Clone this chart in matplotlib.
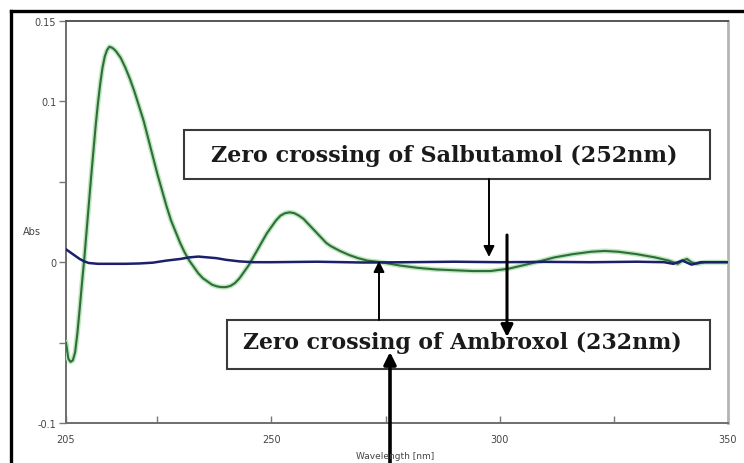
import matplotlib
matplotlib.use("Agg")
import matplotlib.pyplot as plt
import matplotlib.patheffects as pe
from matplotlib.patches import Rectangle
from matplotlib.lines import Line2D

# ---------------- data ----------------
green_wl = [205, 205.5, 206, 206.5, 207, 207.5, 208, 208.5, 209, 209.5, 210, 210.5, 211, 211.5,
            212, 212.5, 213, 213.5, 214, 214.5, 215, 215.5, 216, 217, 218, 219, 220, 221, 222,
            223, 224, 225, 226, 227, 228, 229, 230, 231, 232, 233, 234, 235, 236, 237, 238, 239,
            240, 241, 242, 243, 244, 245, 246, 247, 248, 249, 250, 251, 252, 253, 254, 255, 256,
            257, 258, 259, 260, 261, 262, 263, 265, 267, 269, 271, 274, 278, 282, 286, 290,
            294, 298, 302, 305, 308, 312, 316, 320, 323, 326, 330, 334, 337, 339, 340, 341,
            342, 343, 345, 350]
green_abs = [-0.050, -0.060, -0.062, -0.061, -0.056, -0.044, -0.029, -0.013, 0.002, 0.019,
             0.036, 0.053, 0.069, 0.085, 0.099, 0.111, 0.121, 0.128, 0.132, 0.134, 0.1335,
             0.1325, 0.131, 0.127, 0.121, 0.114, 0.106, 0.097, 0.088, 0.077, 0.066, 0.055,
             0.045, 0.035, 0.026, 0.019, 0.012, 0.006, 0.001, -0.003, -0.007, -0.010, -0.012,
             -0.014, -0.015, -0.0155, -0.0155, -0.0148, -0.013, -0.010, -0.006, -0.002, 0.003,
             0.008, 0.013, 0.018, 0.022, 0.026, 0.029, 0.0305, 0.031, 0.0305, 0.029, 0.027,
             0.024, 0.021, 0.018, 0.015, 0.012, 0.010, 0.007, 0.0045, 0.0025, 0.001, 0.0,
             -0.002, -0.0035, -0.0045, -0.005,
             -0.0055, -0.0055, -0.004, -0.002, 0.0, 0.003, 0.005, 0.0065, 0.007, 0.0065, 0.005,
             0.003, 0.001, -0.001, 0.001, 0.002,
             0.0, -0.001, 0.0, 0.0]

blue_wl = [205, 206, 207, 208, 209, 210, 212, 215, 218, 221, 224, 227, 230, 232, 234, 236, 238,
           240, 243, 246, 250, 260, 270, 280, 290, 300, 310, 320, 330, 336, 338, 340, 342, 344,
           347, 350]
blue_abs = [0.008, 0.006, 0.004, 0.002, 0.0005, -0.0005, -0.001, -0.001, -0.001, -0.0008,
            -0.0003, 0.001, 0.002, 0.003, 0.0035, 0.003, 0.0025,
            0.0015, 0.0005, 0.0, 0.0, 0.0003, -0.0002, 0.0, 0.0003, 0.0, 0.0002, 0.0, 0.0003,
            0.0, -0.001, 0.001, -0.0015, 0.0,
            0.0, 0.0]

x_ticks = [205, 225, 250, 275, 300, 325, 350]
x_tick_labels = ["205", "", "250", "", "300", "", "350"]
y_ticks = [-0.1, -0.05, 0, 0.05, 0.1, 0.15]
y_tick_labels = ["-0.1", "", "0", "", "0.1", "0.15"]

label_salbutamol = "Zero crossing of Salbutamol (252nm)"
label_ambroxol = "Zero crossing of Ambroxol (232nm)"

# ---------------- figure ----------------
W, H = 744, 464
fig = plt.figure(figsize=(W / 100, H / 100), dpi=100)
ax = fig.add_axes([66 / W, 1 - 424 / H, (728 - 66) / W, (424 - 22) / H])

ax.plot(green_wl, green_abs, color="#2f6e3b", lw=1.5, zorder=3,
        path_effects=[pe.Stroke(linewidth=3.6, foreground="#bfe8bf"), pe.Normal()])
ax.plot(blue_wl, blue_abs, color="#1c1f6b", lw=1.8, zorder=4)

ax.set_xlim(205, 350)
ax.set_ylim(-0.1, 0.15)
ax.set_xticks(x_ticks)
ax.set_xticklabels(x_tick_labels)
ax.set_yticks(y_ticks)
ax.set_yticklabels(y_tick_labels)

ax.tick_params(axis="x", direction="in", length=5, width=1, colors="#777777",
               labelcolor="#444444", labelsize=7, pad=8)
ax.tick_params(axis="y", direction="out", length=5, width=1, colors="#777777",
               labelcolor="#444444", labelsize=7, pad=2)
for lab in ax.get_xticklabels() + ax.get_yticklabels():
    lab.set_fontfamily("Liberation Sans Narrow")

for side in ["left", "bottom"]:
    ax.spines[side].set_color("#6e6e6e")
    ax.spines[side].set_linewidth(1.4)
ax.spines["top"].set_color("#555555")
ax.spines["top"].set_linewidth(1.4)
ax.spines["right"].set_color("#b5b5b5")
ax.spines["right"].set_linewidth(2.0)

fig.text(32 / W, 1 - 232 / H, "Abs", fontsize=7, color="#444444",
         family="Liberation Sans Narrow", ha="center", va="center")
fig.text(395 / W, 1 - 457 / H, "Wavelength [nm]", fontsize=6.5, color="#444444",
         family="Liberation Sans Narrow", ha="center", va="center")

# ---------------- annotation boxes ----------------
def px2data(px, py):
    return ax.transData.inverted().transform(fig.transFigure.transform((px / W, 1 - py / H)))

def box(x0, y0, x1, y1):
    a = px2data(x0, y1)
    b = px2data(x1, y0)
    r = Rectangle(a, b[0] - a[0], b[1] - a[1], facecolor="white", edgecolor="#3a3a3a",
                  lw=1.5, zorder=6, clip_on=False)
    ax.add_patch(r)

box(184, 131, 710, 180)
box(227, 321, 710, 370)

ax.text(*px2data(444, 156), label_salbutamol, fontsize=16, fontweight="bold",
        family="DejaVu Serif", color="#1a1a1a", ha="center", va="center", zorder=7)
ax.text(*px2data(462, 343), label_ambroxol, fontsize=15.8, fontweight="bold",
        family="DejaVu Serif", color="#1a1a1a", ha="center", va="center", zorder=7)

def arrow(x0, y0, x1, y1, lw, ms):
    ax.annotate("", xy=px2data(x1, y1), xytext=px2data(x0, y0),
                arrowprops=dict(arrowstyle="-|>", color="black", lw=lw,
                                mutation_scale=ms, shrinkA=0, shrinkB=0),
                annotation_clip=False, zorder=8)

arrow(489, 180, 489, 258, 1.4, 16)
arrow(507, 236, 507, 338, 2.2, 18)
arrow(379, 321, 379, 262, 1.4, 16)
arrow(390, 470, 390, 353, 2.6, 18)

# ---------------- outer frame (top + left) ----------------
fig.add_artist(Line2D([11 / W, 11 / W], [0, 1 - 12 / H], color="black", lw=2.4,
                      transform=fig.transFigure))
fig.add_artist(Line2D([11 / W, 1.0], [1 - 12 / H, 1 - 12 / H], color="black", lw=2.4,
                      transform=fig.transFigure))

fig.savefig("out.png", dpi=100)
